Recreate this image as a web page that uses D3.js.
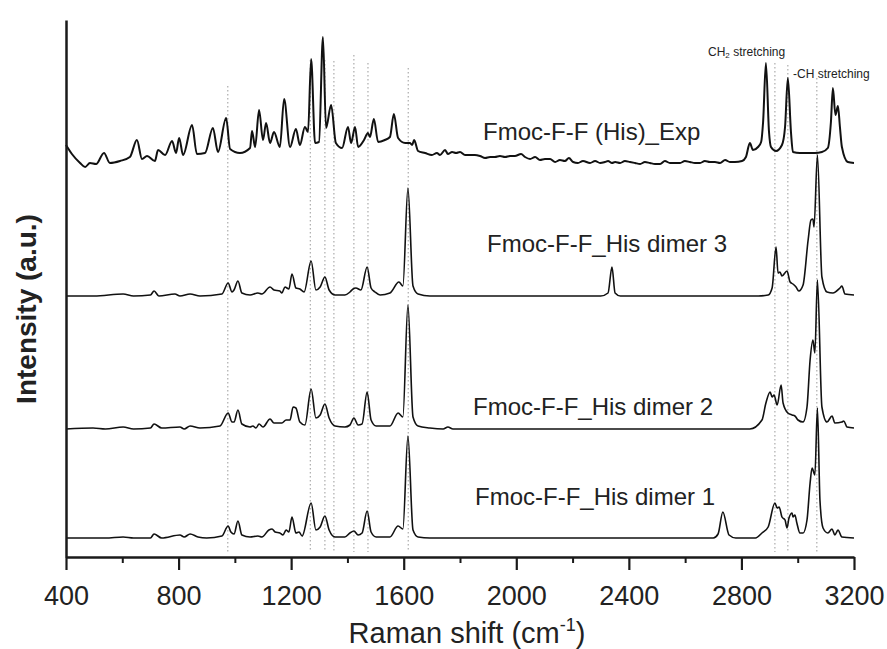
<!DOCTYPE html>
<meta charset="utf-8">
<head>
  <title>Raman spectra</title>
</head>

<style>
body {
  margin: 0;
  background: #fff;
}
svg text {
  font-family: "Liberation Sans", Arial, Helvetica, sans-serif;
  fill: #222;
}
.axis path, .axis line {
  stroke: #1a1a1a;
}
.spec {
  fill: none;
  stroke: #111;
  stroke-linejoin: round;
}
.guide {
  stroke: #9a9a9a;
  stroke-width: 1;
  stroke-dasharray: 1.5,2.5;
}
</style>

<body>
  <svg width="887" height="649"></svg>

  <script src="https://cdnjs.cloudflare.com/ajax/libs/d3/7.8.5/d3.min.js"></script>
  <script>
      // x ticks (cm-1)
      var majorTicks = [400, 800, 1200, 1600, 2000, 2400, 2800, 3200];
      var minorTicks = [600, 1000, 1400, 1800, 2200, 2600, 3000];

      var names = ['Fmoc-F-F (His)_Exp', 'Fmoc-F-F_His dimer 3', 'Fmoc-F-F_His dimer 2', 'Fmoc-F-F_His dimer 1'];
      // vertical stacking offsets (a.u.)
      var offsets = [390, 261, 128, 19];

      // [wavenumber, intensity above own baseline]
      var expSpec = [
        [400,22],[421,13],[450,4],[468,0],[485,4],[507,3],[535,14],[556,4],[592,6],[627,10],[652,27],[670,8],
        [688,11],[716,6],[727,17],[752,12],[777,26],[791,14],[802,29],[816,12],[848,42],[865,13],[894,14],
        [922,39],[940,15],[969,49],[983,18],[1018,14],[1054,19],[1061,36],[1072,20],[1086,57],[1100,27],
        [1111,44],[1125,24],[1139,35],[1160,20],[1175,68],[1196,20],[1217,38],[1231,22],[1249,40],[1260,35],
        [1271,108],[1285,24],[1299,25],[1313,130],[1324,39],[1342,62],[1359,24],[1381,19],[1402,40],[1413,24],
        [1427,40],[1438,20],[1459,27],[1473,34],[1480,30],[1494,48],[1509,25],[1533,27],[1551,30],[1565,53],
        [1580,29],[1605,24],[1622,24],[1630,22],[1637,27],[1651,16],[1676,14],[1700,12],[1718,14],[1729,12],
        [1747,17],[1757,13],[1772,15],[1786,14],[1800,15],[1818,12],[1836,12],[1853,12],[1871,11],[1889,9],
        [1907,10],[1924,10],[1942,11],[1960,10],[1978,11],[1995,11],[2017,13],[2031,10],[2049,8],[2067,10],
        [2084,7],[2102,8],[2120,8],[2138,5],[2155,7],[2173,6],[2187,9],[2202,5],[2219,4],[2237,6],[2262,4],
        [2280,6],[2298,4],[2315,5],[2326,6],[2340,4],[2351,5],[2369,4],[2386,6],[2404,5],[2422,4],[2440,3],
        [2457,5],[2475,4],[2493,3],[2511,3],[2528,6],[2546,4],[2564,4],[2582,4],[2599,6],[2617,5],[2635,4],
        [2653,4],[2670,6],[2688,5],[2706,5],[2724,4],[2742,7],[2759,5],[2777,5],[2802,6],[2816,10],[2830,24],
        [2841,17],[2859,20],[2870,25],[2877,45],[2887,104],[2898,35],[2905,20],[2923,16],[2944,22],[2955,40],
        [2965,89],[2976,35],[2983,15],[3008,14],[3033,14],[3061,14],[3086,15],[3107,19],[3118,45],[3125,79],
        [3134,52],[3143,61],[3150,40],[3157,20],[3178,5],[3200,4]
      ];

      var dimer3 = [
        [400,0],[500,0],[603,2],[640,0],[700,1],[713,5],[730,0],[787,2],[805,0],[841,2],[876,0],[954,2],
        [976,13],[990,4],[997,6],[1011,15],[1025,3],[1054,1],[1082,3],[1096,2],[1125,9],[1139,6],[1160,5],
        [1167,3],[1178,9],[1192,7],[1203,22],[1217,8],[1231,7],[1246,4],[1271,35],[1288,6],[1303,9],[1320,19],
        [1335,6],[1356,1],[1391,1],[1409,4],[1420,7],[1430,8],[1448,6],[1470,29],[1484,8],[1498,4],[1516,1],
        [1551,3],[1583,14],[1597,10],[1615,108],[1633,10],[1651,2],[1693,0],[2300,0],[2326,3],[2340,29],
        [2351,3],[2370,0],[2860,0],[2895,1],[2909,8],[2923,49],[2930,23],[2937,24],[2944,20],[2962,25],
        [2973,14],[2983,12],[2994,9],[3004,5],[3019,11],[3037,56],[3047,76],[3054,77],[3058,69],[3070,141],
        [3086,19],[3104,4],[3125,3],[3150,8],[3157,10],[3168,2],[3200,1]
      ];

      var dimer2 = [
        [400,0],[496,1],[540,0],[603,2],[640,0],[700,1],[713,5],[740,1],[805,2],[820,0],[841,3],[876,1],
        [947,3],[976,16],[990,7],[997,7],[1011,19],[1025,5],[1054,2],[1064,3],[1075,1],[1086,5],[1100,2],
        [1125,10],[1139,6],[1167,6],[1182,9],[1196,9],[1207,22],[1217,21],[1231,7],[1249,4],[1271,40],
        [1288,11],[1303,14],[1320,25],[1335,11],[1356,3],[1391,2],[1409,4],[1423,11],[1438,4],[1452,5],
        [1470,37],[1484,9],[1502,3],[1551,3],[1580,16],[1597,12],[1615,124],[1633,12],[1651,3],[1693,1],
        [1740,0],[1757,2],[1775,0],[2830,0],[2873,9],[2887,26],[2902,37],[2909,32],[2916,34],[2927,24],
        [2941,44],[2948,26],[2965,16],[2980,14],[2990,13],[3001,9],[3019,7],[3033,22],[3044,69],[3054,89],
        [3061,76],[3070,149],[3086,22],[3104,7],[3122,13],[3132,6],[3157,7],[3164,8],[3175,2],[3200,1]
      ];

      var dimer1 = [
        [400,0],[540,0],[603,1],[640,0],[700,0],[713,4],[740,0],[805,3],[820,1],[841,4],[869,1],[900,0],
        [954,2],[976,12],[986,6],[997,4],[1011,17],[1025,3],[1054,1],[1082,2],[1096,1],[1121,8],[1132,9],
        [1143,6],[1160,5],[1171,3],[1182,8],[1192,6],[1203,21],[1217,5],[1228,6],[1239,2],[1271,35],[1288,8],
        [1303,11],[1320,22],[1335,8],[1356,1],[1391,1],[1409,5],[1423,7],[1438,3],[1452,5],[1470,27],[1484,6],
        [1502,1],[1551,1],[1580,12],[1597,9],[1615,102],[1633,8],[1651,1],[1693,0],[2700,0],[2717,4],
        [2734,26],[2756,3],[2780,0],[2850,0],[2873,5],[2895,11],[2919,35],[2927,30],[2934,31],[2944,21],
        [2955,18],[2962,10],[2969,20],[2980,25],[2983,21],[2990,23],[2997,15],[3008,5],[3019,5],[3033,18],
        [3044,55],[3051,70],[3061,63],[3070,130],[3079,38],[3090,10],[3107,5],[3122,9],[3132,3],[3143,8],
        [3157,1],[3200,0]
      ];

      // dotted guide lines: wavenumber and top (a.u.)
      var guideWn  = [975, 1268, 1320, 1352, 1423, 1473, 1616, 2919, 2965, 3068];
      var guideTop = [471, 497, 497, 496, 502, 494, 489, 494, 492, 479];

      var spectra = [expSpec, dimer3, dimer2, dimer1];

      var svg = d3.select('svg');

      var x = d3.scaleLinear().domain([400, 3200]).range([66, 854]);
      var y = d3.scaleLinear().domain([0, 537]).range([557, 20]);

      // guides (behind)
      svg.append('g').selectAll('line')
        .data(guideWn)
        .enter().append('line')
        .attr('class', 'guide')
        .attr('x1', d => x(d)).attr('x2', d => x(d))
        .attr('y1', (d, i) => y(guideTop[i]))
        .attr('y2', y(5));

      // spectra
      var line = d3.line()
        .x(d => x(d[0]))
        .curve(d3.curveMonotoneX);

      spectra.forEach(function(s, i) {
        line.y(d => y(d[1] + offsets[i]));
        svg.append('path')
          .datum(s)
          .attr('class', 'spec')
          .attr('stroke-width', i == 0 ? 2 : 1.6)
          .attr('d', line);
      });

      // axes
      var xAxis = d3.axisBottom(x)
        .tickValues(majorTicks)
        .tickSizeInner(13)
        .tickSizeOuter(0)
        .tickPadding(16)
        .tickFormat(d3.format('d'));
      var gx = svg.append('g')
        .attr('class', 'axis')
        .attr('transform', 'translate(0,' + y(0) + ')')
        .call(xAxis);
      gx.select('.domain').attr('stroke-width', 2.5);
      gx.selectAll('.tick line').attr('stroke-width', 2.2);
      gx.selectAll('.tick text')
        .attr('fill', '#222')
        .style('font-size', '27px');

      var gm = svg.append('g')
        .attr('class', 'axis')
        .attr('transform', 'translate(0,' + y(0) + ')')
        .call(d3.axisBottom(x).tickValues(minorTicks).tickSize(6).tickFormat(''));
      gm.select('.domain').remove();
      gm.selectAll('.tick line').attr('stroke-width', 2);

      var gy = svg.append('g')
        .attr('class', 'axis')
        .attr('transform', 'translate(' + x(400) + ',0)')
        .call(d3.axisLeft(y).tickValues([]).tickSizeOuter(0));
      gy.select('.domain').attr('stroke-width', 2.5);

      // axis titles
      var xt = svg.append('text')
        .attr('x', 467).attr('y', 643)
        .attr('text-anchor', 'middle')
        .style('font-size', '29px');
      xt.append('tspan').text('Raman shift (cm');
      xt.append('tspan').attr('dy', -12).style('font-size', '18px').text('-1');
      xt.append('tspan').attr('dy', 12).text(')');

      svg.append('text')
        .attr('transform', 'translate(36,309) rotate(-90)')
        .attr('text-anchor', 'middle')
        .style('font-size', '28px')
        .style('font-weight', 'bold')
        .text('Intensity (a.u.)');

      // series labels
      var labelPos = [[483, 140], [487, 252], [473, 415], [475, 505]];
      svg.append('g').selectAll('text')
        .data(names)
        .enter().append('text')
        .attr('x', (d, i) => labelPos[i][0])
        .attr('y', (d, i) => labelPos[i][1])
        .style('font-size', '24px')
        .text(d => d);

      // band notes
      var ch2 = svg.append('text').attr('x', 708).attr('y', 56).style('font-size', '12px');
      ch2.append('tspan').text('CH');
      ch2.append('tspan').attr('dy', 2).style('font-size', '8px').text('2');
      ch2.append('tspan').attr('dy', -2).text(' stretching');

      svg.append('text').attr('x', 793).attr('y', 78).style('font-size', '12px').text('-CH stretching');
  </script>
</body>
</html>
